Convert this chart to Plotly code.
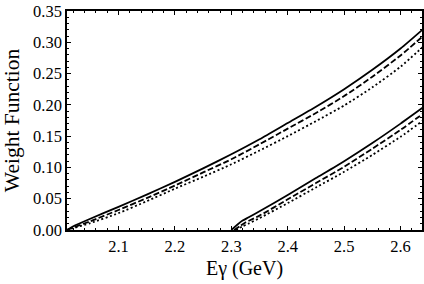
import plotly.graph_objects as go

# Curve 1 (threshold ~2.009 GeV)
e1_solid = [2.0087, 2.02, 2.05, 2.1, 2.15, 2.2, 2.25, 2.3, 2.35, 2.4, 2.45, 2.5, 2.55, 2.6, 2.64]
w1_solid = [0.0, 0.006, 0.018, 0.037, 0.0565, 0.077, 0.0985, 0.121, 0.145, 0.171, 0.197, 0.225, 0.256, 0.290, 0.321]
e1_dash = [2.0087, 2.02, 2.05, 2.1, 2.15, 2.2, 2.25, 2.3, 2.35, 2.4, 2.45, 2.5, 2.55, 2.6, 2.64]
w1_dash = [0.0, 0.004, 0.014, 0.032, 0.051, 0.071, 0.092, 0.113, 0.137, 0.162, 0.187, 0.214, 0.245, 0.279, 0.310]
e1_dot = [2.0087, 2.02, 2.05, 2.1, 2.15, 2.2, 2.25, 2.3, 2.35, 2.4, 2.45, 2.5, 2.55, 2.6, 2.64]
w1_dot = [0.0, 0.003, 0.011, 0.027, 0.046, 0.066, 0.085, 0.105, 0.127, 0.150, 0.174, 0.199, 0.228, 0.261, 0.293]

# Curve 2 (threshold ~2.30 GeV)
e2_solid = [2.300, 2.31, 2.32, 2.33, 2.35, 2.4, 2.45, 2.5, 2.55, 2.6, 2.64]
w2_solid = [0.0, 0.008, 0.015, 0.020, 0.030, 0.056, 0.083, 0.110, 0.139, 0.170, 0.196]
e2_dash = [2.305, 2.315, 2.325, 2.35, 2.4, 2.45, 2.5, 2.55, 2.6, 2.64]
w2_dash = [0.0, 0.006, 0.012, 0.023, 0.049, 0.075, 0.101, 0.130, 0.160, 0.186]
e2_dot = [2.308, 2.32, 2.33, 2.35, 2.4, 2.45, 2.5, 2.55, 2.6, 2.64]
w2_dot = [0.0, 0.006, 0.010, 0.019, 0.043, 0.068, 0.093, 0.120, 0.149, 0.175]

x_ticks = [2.1, 2.2, 2.3, 2.4, 2.5, 2.6]
y_ticks = [0.0, 0.05, 0.10, 0.15, 0.20, 0.25, 0.30, 0.35]

FONT = "Liberation Serif"

fig = go.Figure()
styles = [("solid", 1.8), ("6px,2.5px", 1.8), ("2px,2.5px", 1.8)]
for (ex, wy), (dash, lw) in zip([(e1_solid, w1_solid), (e1_dash, w1_dash), (e1_dot, w1_dot)], styles):
    fig.add_trace(go.Scatter(x=ex, y=wy, mode="lines", line=dict(color="black", width=lw, dash=dash, shape="spline", smoothing=0.6), showlegend=False, hoverinfo="skip"))
for (ex, wy), (dash, lw) in zip([(e2_solid, w2_solid), (e2_dash, w2_dash), (e2_dot, w2_dot)], styles):
    fig.add_trace(go.Scatter(x=ex, y=wy, mode="lines", line=dict(color="black", width=lw, dash=dash, shape="spline", smoothing=0.6), showlegend=False, hoverinfo="skip"))

axis_common = dict(
    showline=True, linecolor="black", linewidth=1.5, mirror="allticks",
    ticks="inside", ticklen=4, tickwidth=1, tickcolor="black",
    showgrid=False, zeroline=False, automargin=False,
    tickfont=dict(family=FONT, size=16.5, color="black"),
)
fig.update_xaxes(
    range=[2.0087, 2.638], tickvals=x_ticks, ticktext=[f"{v:.1f}" for v in x_ticks],
    minor=dict(dtick=0.02, tick0=2.0, ticks="inside", ticklen=2, tickcolor="black", showgrid=False),
    title=dict(text="Eγ (GeV)", font=dict(family=FONT, size=20, color="black"), standoff=6),
    **axis_common,
)
fig.update_yaxes(
    range=[0, 0.35], tickvals=y_ticks, ticktext=[f"{v:.2f}" for v in y_ticks],
    minor=dict(dtick=0.01, tick0=0.0, ticks="inside", ticklen=2, tickcolor="black", showgrid=False),
    title=dict(text="Weight Function", font=dict(family=FONT, size=21.5, color="black"), standoff=12),
    **axis_common,
)
fig.update_layout(
    width=424, height=284,
    margin=dict(l=67, r=2, t=11, b=54),
    plot_bgcolor="white", paper_bgcolor="white",
)
# remove the default 8px page margin so the figure sits at the window's corner
fig.write_html(
    "out.html",
    config={"displayModeBar": False},
    post_script="document.body.style.margin='0';document.body.style.overflow='hidden';",
)
